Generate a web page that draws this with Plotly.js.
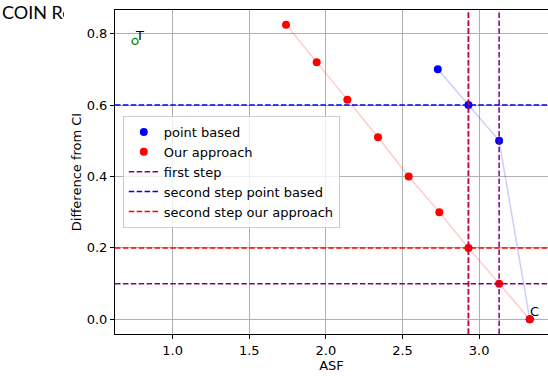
<!DOCTYPE html>
<html>
<head>
<meta charset="utf-8">
<script src="https://cdn.plot.ly/plotly-3.0.1.min.js"></script>
<style>html,body{margin:0;padding:0;background:#fff;}#chart{width:548px;height:376px;}</style>
</head>
<body>
<div id="chart"></div>
<script>
// ---- data ----
const pointBasedX = [2.73, 2.93, 3.13, 3.33];
const pointBasedY = [0.70, 0.60, 0.50, 0.00];
const ourApproachX = [1.74, 1.94, 2.14, 2.34, 2.54, 2.74, 2.93, 3.13, 3.33];
const ourApproachY = [0.825, 0.72, 0.615, 0.51, 0.40, 0.30, 0.20, 0.10, 0.00];
const firstStepV = [2.93, 3.13];
const firstStepH = [0.10];
const secondPointH = [0.60];
const secondOurH = [0.20];
const secondOurV = [2.93];
const labelT = {x: 0.755, y: 0.778, text: 'T'};
const labelC = {x: 3.33, y: 0.0, text: 'C'};
const titleText = 'COIN Re';
const xTickVals = [1.0, 1.5, 2.0, 2.5, 3.0];
const yTickVals = [0.0, 0.2, 0.4, 0.6, 0.8];

const FONT = 'DejaVu Sans, sans-serif';
const dash = '5.5px,2.4px';
const purple = '#800080', blue = '#0000ff', red = '#ff0000';

const traces = [
  {x: pointBasedX, y: pointBasedY, mode: 'lines', line: {color: 'rgba(0,0,255,0.2)', width: 1.5}, showlegend: false, hoverinfo: 'skip'},
  {x: ourApproachX, y: ourApproachY, mode: 'lines', line: {color: 'rgba(255,0,0,0.2)', width: 1.5}, showlegend: false, hoverinfo: 'skip'},
  {x: pointBasedX, y: pointBasedY, mode: 'markers', name: 'point based', marker: {color: blue, size: 8}},
  {x: ourApproachX, y: ourApproachY, mode: 'markers', name: 'Our approach', marker: {color: red, size: 8}},
  {x: [null], y: [null], mode: 'lines', name: 'first step', line: {color: purple, width: 1.5, dash: dash}},
  {x: [null], y: [null], mode: 'lines', name: 'second step point based', line: {color: blue, width: 1.5, dash: dash}},
  {x: [null], y: [null], mode: 'lines', name: 'second step our approach', line: {color: red, width: 1.5, dash: dash}},
  {x: [labelT.x], y: [labelT.y], mode: 'markers', showlegend: false, marker: {symbol: 'circle-open', color: 'green', size: 6, line: {width: 1.2}}}
];

const shapes = [];
function vline(v, color) {
  shapes.push({type: 'line', xref: 'x', yref: 'y domain', x0: v, x1: v, y0: 0, y1: 1, layer: 'above', line: {color: color, width: 1.5, dash: dash}});
}
function hline(v, color) {
  shapes.push({type: 'line', xref: 'x domain', yref: 'y', x0: 0, x1: 1, y0: v, y1: v, layer: 'above', line: {color: color, width: 1.5, dash: dash}});
}
firstStepV.forEach(v => vline(v, purple));
firstStepH.forEach(v => hline(v, purple));
secondPointH.forEach(v => hline(v, blue));
secondOurH.forEach(v => hline(v, red));
secondOurV.forEach(v => vline(v, '#c8004a'));

const axisCommon = {
  showline: true, mirror: true, linecolor: '#000', linewidth: 1,
  ticks: 'outside', ticklen: 4, tickcolor: '#000', tickwidth: 1,
  showgrid: true, gridcolor: '#b0b0b0', gridwidth: 1, zeroline: false,
  tickfont: {family: FONT, size: 13, color: '#000'}, tickformat: '.1f'
};

const layout = {
  width: 548, height: 376,
  margin: {l: 115, r: 0, t: 10, b: 42},
  paper_bgcolor: '#fff', plot_bgcolor: '#fff',
  font: {family: FONT, size: 13, color: '#000'},
  xaxis: Object.assign({}, axisCommon, {range: [0.624, 3.449], tickvals: xTickVals,
    title: {text: 'ASF', font: {family: FONT, size: 13, color: '#000'}, standoff: 1}}),
  yaxis: Object.assign({}, axisCommon, {range: [-0.041, 0.866], tickvals: yTickVals,
    title: {text: 'Difference from CI', font: {family: FONT, size: 13, color: '#000'}, standoff: 2}}),
  showlegend: true,
  legend: {x: 0.018, y: 0.673, xanchor: 'left', yanchor: 'top', bgcolor: 'rgba(255,255,255,0.8)',
    bordercolor: '#cccccc', borderwidth: 1, font: {family: FONT, size: 13, color: '#000'},
    tracegroupgap: 0, itemwidth: 30},
  shapes: shapes,
  annotations: [
    {x: labelT.x, y: labelT.y, xref: 'x', yref: 'y', text: labelT.text, showarrow: false, xanchor: 'left', yanchor: 'bottom', yshift: -4, xshift: -2, font: {family: FONT, size: 13, color: '#000'}},
    {x: labelC.x, y: labelC.y, xref: 'x', yref: 'y', text: labelC.text, showarrow: false, xanchor: 'left', yanchor: 'bottom', yshift: -2, xshift: -2, font: {family: FONT, size: 13, color: '#000'}},
    {x: (0 - 115) / 433, y: (334 + 1) / 324, xref: 'paper', yref: 'paper', text: titleText, showarrow: false, xanchor: 'left', yanchor: 'top', align: 'left', width: 62, font: {family: 'Lato, sans-serif', size: 18, color: '#000'}}
  ]
};

Plotly.newPlot('chart', traces, layout, {staticPlot: true, displayModeBar: false});
</script>
</body>
</html>
